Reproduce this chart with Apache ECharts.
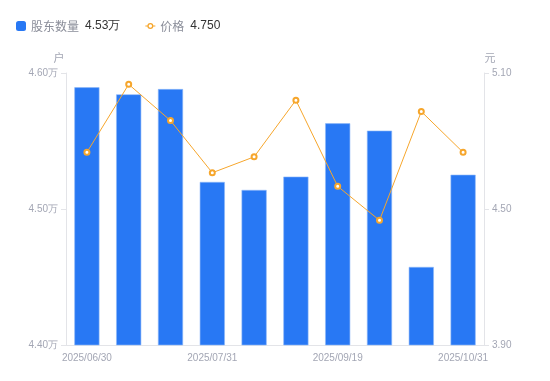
<!DOCTYPE html>
<html>
<head>
<meta charset="utf-8">
<style>
html,body{margin:0;padding:0;background:#fff;}
#c{width:550px;height:381px;}
</style>
<script src="https://cdn.jsdelivr.net/npm/echarts@6/dist/echarts.min.js"></script>
</head>
<body>
<div id="c"></div>
<script>
const categories = ['2025/06/30','2025/07/10','2025/07/20','2025/07/31','2025/08/20','2025/08/31','2025/09/19','2025/09/30','2025/10/20','2025/10/31'];
const holders = [45895, 45843, 45882, 45199, 45140, 45238, 45630, 45576, 44574, 45252];
const prices = [4.75, 5.05, 4.89, 4.66, 4.73, 4.98, 4.60, 4.45, 4.93, 4.75];
const leftTicks = { min: 44000, max: 46000, interval: 1000 };
const rightTicks = { min: 3.9, max: 5.1, interval: 0.6 };

const barColor = '#2878f4';
const lineColor = '#f6a62c';
const grey = '#a3a6b4';
const axisColor = '#e3e4e8';

const lastHolder = (holders[holders.length-1]/10000).toFixed(2) + '万';
const lastPrice = prices[prices.length-1].toFixed(3);

const lineIcon = 'path://M0,4.4h2.4v1.2h-2.4z M7.6,4.4h2.4v1.2h-2.4z M5,2a3,3 0 1,1 0,6a3,3 0 1,1 0,-6z M5,3.3a1.7,1.7 0 1,0 0,3.4a1.7,1.7 0 1,0 0,-3.4z';

const chart = echarts.init(document.getElementById('c'), null, {renderer:'canvas'});
chart.setOption({
  animation: false,
  legend: {
    left: 11, top: 15,
    itemWidth: 10, itemHeight: 10, itemGap: 25,
    data: [
      {name: '股东数量', icon: 'roundRect', itemStyle: {color: barColor, borderWidth: 0}},
      {name: '价格', icon: lineIcon, itemStyle: {color: lineColor, borderWidth: 0}}
    ],
    formatter: function(name){
      const v = name === '股东数量' ? lastHolder : lastPrice;
      return '{n|' + name + '}{v|' + v + '}';
    },
    textStyle: {
      rich: {
        n: {color: '#8a8d99', fontSize: 12, fontFamily: 'Noto Sans CJK SC', padding:[0,6,0,0]},
        v: {color: '#333333', fontSize: 12, fontFamily: 'Liberation Sans'}
      }
    }
  },
  grid: {left: 66, right: 66, top: 73, bottom: 36, containLabel: false},
  xAxis: {
    type: 'category',
    data: categories,
    axisLine: {lineStyle: {color: axisColor}},
    axisTick: {show: false},
    axisLabel: {interval: 2, color: grey, fontSize: 10, fontFamily: 'Liberation Sans', margin: 8}
  },
  yAxis: [
    {
      type: 'value', name: '户', position: 'left',
      min: leftTicks.min, max: leftTicks.max, interval: leftTicks.interval,
      nameGap: 10,
      nameTextStyle: {color: grey, fontSize: 11, fontFamily: 'Noto Sans CJK SC', padding: [0, 14, 0, 0]},
      axisLine: {show: true, lineStyle: {color: axisColor}},
      axisTick: {show: true, length: 5, lineStyle: {color: axisColor}},
      splitLine: {show: false},
      axisLabel: {color: grey, fontSize: 10, fontFamily: 'Liberation Sans',
        formatter: v => (v/10000).toFixed(2) + '万'}
    },
    {
      type: 'value', name: '元', position: 'right',
      min: rightTicks.min, max: rightTicks.max, interval: rightTicks.interval,
      nameGap: 10,
      nameTextStyle: {color: grey, fontSize: 11, fontFamily: 'Noto Sans CJK SC', padding: [0, 0, 0, 12]},
      axisLine: {show: true, lineStyle: {color: axisColor}},
      axisTick: {show: true, length: 5, lineStyle: {color: axisColor}},
      splitLine: {show: false},
      axisLabel: {color: grey, fontSize: 10, fontFamily: 'Liberation Sans',
        formatter: v => v.toFixed(2)}
    }
  ],
  series: [
    {
      name: '股东数量', type: 'bar', yAxisIndex: 0,
      data: holders, barWidth: '60%',
      itemStyle: {color: barColor, borderColor: '#8fb8f8', borderWidth: 0.6}
    },
    {
      name: '价格', type: 'line', yAxisIndex: 1,
      data: prices,
      symbol: 'emptyCircle', symbolSize: 5,
      lineStyle: {color: lineColor, width: 1},
      itemStyle: {color: lineColor, borderWidth: 2}
    }
  ]
});
</script>
</body>
</html>
